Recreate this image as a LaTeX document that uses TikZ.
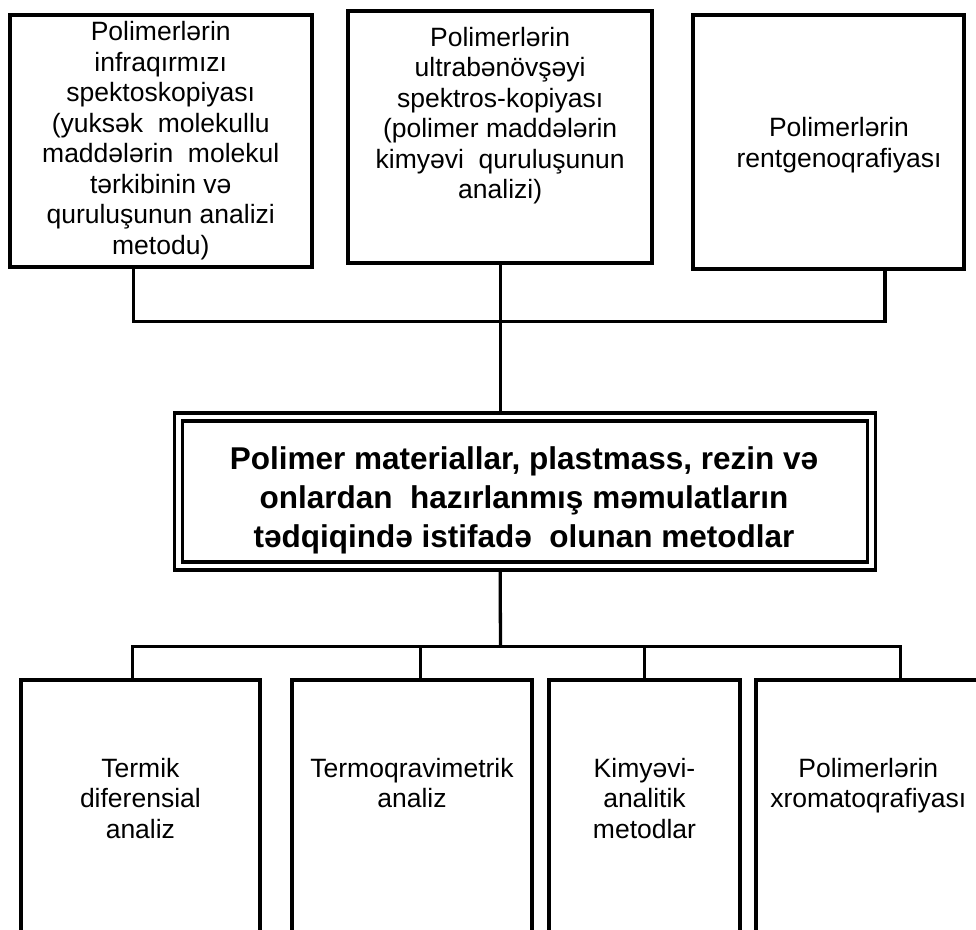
\documentclass[tikz,border=0pt]{standalone}
\usepackage{fontspec}
\setmainfont{Liberation Sans}
\usetikzlibrary{positioning}
\tikzset{
    box/.style={
        rectangle,
        draw=black,
        line width=4pt,
        outer sep=0pt,
        inner sep=0pt,
        align=center,
        font=\fontsize{26.5}{30.5}\selectfont
    },
    link/.style={
        line width=3.3pt,
        draw=black
    }
}

\begin{document}
\begin{tikzpicture}[
    x=1pt, y=-1pt,
    txt/.style={inner sep=0pt, align=center, font=\fontsize{26.5}{30.5}\selectfont},
    bigbox/.style={box, double, double distance=4.5pt, line width=3.5pt, outer sep=5.75pt}
]
\useasboundingbox (0,0) rectangle (976,929);
\clip (0,0) rectangle (976,929);

% 1. Top row
\node[box, minimum width=302.5pt, minimum height=252.3pt] (infra) at (160.75,140.85) {
    Polimerlərin\\infraqırmızı\\spektoskopiyası\\(yuksək~ molekullu\\maddələrin~ molekul\\tərkibinin və\\quruluşunun analizi\\metodu)};
\node[box, minimum width=303.7pt, minimum height=252.2pt] (ultra) at (500.15,136.9) {};
\node[txt, below=16pt of ultra.north] (ultraT) {
    Polimerlərin\\ultrabənövşəyi\\spektros-kopiyası\\(polimer maddələrin\\kimyəvi~ quruluşunun\\analizi)};
\node[box, minimum width=270.8pt, minimum height=254pt] (rentgen) at (828.4,141.7) {};
\node[txt] (rentgenT) at (839,145) {Polimerlərin\\rentgenoqrafiyası};

% 2. Main box
\node[bigbox, minimum width=693pt, minimum height=149pt] (methods) at (525,491.5) {};
\node[txt, font=\fontsize{31.5}{39}\selectfont\bfseries] (methodsT) at (524,500) {
    Polimer materiallar, plastmass, rezin və\\onlardan~ hazırlanmış məmulatların\\tədqiqində istifadə~ olunan metodlar};

% 3. Bottom row
\node[box, minimum width=239.8pt, minimum height=320.5pt] (termik) at (140.4,839.75) {};
\node[box, minimum width=240pt, minimum height=320.5pt] (termo) at (412,839.75) {};
\node[box, minimum width=191.6pt, minimum height=320.5pt] (kimya) at (644.5,839.75) {};
\node[box, minimum width=233.7pt, minimum height=320.5pt] (xroma) at (873,839.75) {};
\node[txt, below=78.2pt of termik.north] (termikT) {Termik\\diferensial\\analiz};
\node[txt, below=78.2pt of termo.north] (termoT) {Termoqravimetrik\\analiz};
\node[txt, below=78.2pt of kimya.north] (kimyaT) {Kimyəvi-\\analitik\\metodlar};
\node[txt, below=78.2pt of xroma.north, xshift=-4.7pt] (xromaT) {Polimerlərin\\xromatoqrafiyası};

% 4. Connections
\coordinate (topbus) at (500.5,321.3);
\coordinate (botbus) at (500.5,646.2);
\draw[link] ([xshift=-27.45pt]infra.south) |- (topbus) -| ([xshift=56.6pt]rentgen.south);
\draw[link] (ultra.south) -- (ultra.south |- methods.north);
\draw[link] (methods.south -| ultra.south) -- (botbus);
\draw[link] ([xshift=-8.2pt]termik.north) |- (botbus) -| ([xshift=27.5pt]xroma.north);
\draw[link] ([xshift=8.5pt]termo.north) |- (botbus);
\draw[link] (kimya.north) |- (botbus);

\end{tikzpicture}
\end{document}
